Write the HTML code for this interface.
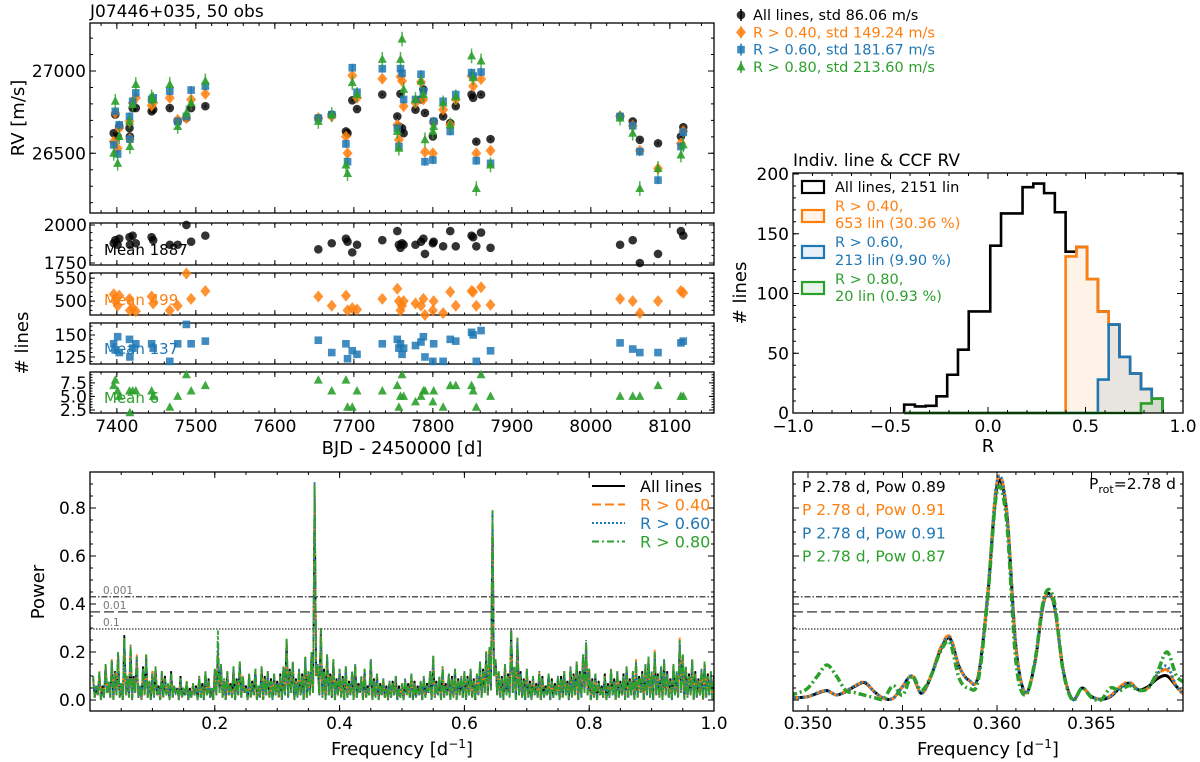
<!DOCTYPE html>
<html><head><meta charset="utf-8">
<style>
html,body{margin:0;padding:0;background:#fff;}
svg{display:block;font-family:"DejaVu Sans","Liberation Sans",sans-serif;}
</style></head>
<body>
<svg id="fig" width="1200" height="762" viewBox="0 0 1200 762" xmlns="http://www.w3.org/2000/svg"></svg>
<script>
// ---------- DATA ----------
const obsDates = [7396,7398,7401,7403,7416,7416.5,7420,7424,7444,7446,7467,7477,7488,7494,7512,
 7655,7672,7690,7692,7698,7704,7736,7755,7757,7759,7761,7763,7778,7785,7788,7790,7800,7801,7813,7822,7829,7849,7851,7855,7861,7873,
 8037,8053,8062,8085,8114,8117];
const rvAll = [26622,26735,26602,26663,26653,26602,26775,26775,26755,26765,26775,26694,26714,26775,26786,
 26714,26735,26633,26622,26822,26769,26857,26724,26663,26861,26653,26622,26765,26827,26888,26745,26602,26694,26724,26684,26786,26857,26837,26571,26857,26586,
 26724,26694,26582,26561,26602,26659];
const rvR40 = [26571,26745,26531,26653,26694,26586,26806,26837,26790,26806,26837,26704,26714,26827,26861,
 26714,26724,26602,26500,26973,26837,26953,26673,26582,26965,26939,26786,26806,26933,26827,26508,26500,26684,26765,26673,26827,26969,26908,26500,26951,26516,
 26724,26667,26516,26408,26561,26633];
const rvR60 = [26551,26755,26496,26673,26724,26586,26816,26867,26827,26837,26878,26694,26724,26884,26908,
 26714,26735,26557,26449,27020,26871,27014,26653,26541,27014,26986,26827,26827,26980,26878,26449,26459,26694,26816,26633,26857,26990,26969,26455,26994,26439,
 26724,26667,26510,26337,26541,26627];
const rvR80 = [26500,26816,26439,26602,26694,26541,26796,26918,26843,26827,26918,26663,26745,26806,26939,
 26694,26735,26429,26377,26929,26857,27071,26633,26531,27071,27194,26888,26827,26939,26857,26582,26633,26663,26806,26673,26843,27092,26959,26286,27061,26429,
 26714,26622,26286,26408,26490,26551];
const nAll = [1880,1900,1870,1910,1920,1870,1930,1880,1920,1900,1870,1870,2000,1890,1930,
 1840,1880,1910,1890,1820,1870,1900,1960,1870,1850,1880,1870,1870,1890,1910,1810,1880,1890,1860,1960,1860,1930,1920,1860,1950,1850,
 1870,1900,1750,1810,1960,1930];
const nR40 = [515,500,490,512,505,480,485,478,510,495,480,490,560,505,522,
 510,490,512,480,485,482,505,527,500,480,490,500,495,490,505,470,480,500,474,520,490,522,520,490,530,492,
 505,500,474,500,522,518];
const nR60 = [140,133,148,130,145,125,135,140,140,135,120,140,162,140,143,
 144,130,140,123,132,128,140,145,135,140,128,135,138,142,148,125,120,140,120,145,143,153,150,120,155,132,
 141,134,130,130,141,143];
const nR80 = [7,8,6,5,6,2,6,6,6,5,3,5,9,6,7,
 8,6,8,3,3,6,6,7,3,5,9,5,4,5,6,6,4,6,3,7,7,7,6,3,9,5,
 5,5,5,7,5,5];
const meanLabels = ["Mean 1887","Mean 499","Mean 137","Mean 6"];
const legendRV = ["All lines, std 86.06 m/s","R > 0.40, std 149.24 m/s","R > 0.60, std 181.67 m/s","R > 0.80, std 213.60 m/s"];

// histogram
const histStart = -0.43;
const histWidth = 0.0552;
const histAll = [7,5.5,6,14,32,53,85,85,140,167,167,189,192,184,168,135,139,112,85,74,47,33,20,12];
const histR40 = [0,0,0,0,0,0,0,0,0,0,0,0,0,0,0,131,139,112,85,74,47,33,20,12];
const histR60 = [0,0,0,0,0,0,0,0,0,0,0,0,0,0,0,0,0,0,28,74,47,33,20,12];
const histR80 = [0,0,0,0,0,0,0,0,0,0,0,0,0,0,0,0,0,0,0,0,0,0,8,12];
const histLegend = [["All lines, 2151 lin"],["R > 0.40,","653 lin (30.36 %)"],["R > 0.60,","213 lin (9.90 %)"],["R > 0.80,","20 lin (0.93 %)"]];

// periodogram full (frequency step 0.005 from 0.005 to 1.000)
const pgStep = 0.005;
const pgR80 = [.10,.06,.12,.05,.15,.08,.17,.11,.20,.07, .26,.10,.23,.09,.18,.06,.13,.19,.08,.11,
 .14,.05,.12,.09,.07,.11,.06,.04,.09,.05, .08,.04,.07,.05,.10,.06,.12,.08,.05,.13,
 .29,.15,.09,.12,.06,.14,.08,.16,.10,.05, .11,.07,.13,.06,.14,.09,.12,.08,.11,.07,
 .10,.14,.26,.12,.16,.08,.13,.10,.18,.12, .20,.90,.15,.30,.12,.19,.10,.17,.08,.13,
 .09,.14,.07,.12,.15,.06,.10,.13,.05,.17, .08,.11,.06,.09,.05,.08,.07,.10,.05,.07,
 .09,.06,.11,.07,.05,.08,.10,.06,.12,.19, .07,.10,.14,.06,.11,.09,.13,.08,.10,.12,
 .09,.13,.08,.11,.16,.12,.20,.22,.79,.17, .12,.09,.15,.10,.30,.14,.26,.11,.08,.13,
 .07,.10,.06,.12,.09,.05,.11,.08,.06,.10, .09,.12,.07,.14,.10,.16,.11,.19,.25,.13,
 .08,.11,.07,.05,.10,.06,.13,.08,.12,.07, .10,.14,.08,.12,.16,.09,.11,.15,.18,.12,
 .20,.10,.14,.17,.11,.08,.15,.12,.25,.19, .14,.10,.17,.11,.08,.13,.16,.10,.12,.09];
const pgAll = [.09,.05,.11,.06,.14,.07,.16,.12,.19,.06, .27,.09,.22,.10,.17,.05,.14,.18,.07,.12,
 .13,.06,.11,.10,.06,.12,.05,.05,.10,.04, .07,.05,.06,.06,.09,.07,.11,.09,.04,.12,
 .20,.14,.08,.11,.07,.13,.09,.15,.09,.06, .10,.08,.12,.05,.13,.10,.11,.09,.10,.08,
 .11,.13,.25,.13,.15,.09,.12,.11,.17,.11, .19,.89,.14,.29,.13,.18,.11,.16,.09,.12,
 .10,.13,.08,.11,.14,.07,.09,.12,.06,.16, .09,.10,.07,.08,.06,.07,.08,.09,.06,.06,
 .08,.07,.10,.08,.06,.07,.09,.07,.11,.17, .08,.09,.13,.07,.10,.10,.12,.09,.09,.11,
 .10,.12,.09,.10,.15,.13,.19,.21,.78,.16, .11,.10,.14,.11,.29,.13,.25,.12,.09,.12,
 .08,.09,.07,.11,.10,.06,.10,.09,.07,.09, .10,.11,.08,.13,.11,.15,.12,.18,.23,.12,
 .09,.10,.08,.06,.11,.07,.12,.09,.11,.08, .11,.13,.09,.11,.15,.10,.12,.14,.17,.11,
 .19,.11,.13,.16,.12,.09,.14,.11,.23,.18, .13,.11,.16,.12,.09,.12,.15,.11,.11,.10];
const pgR40 = [.09,.06,.12,.05,.15,.07,.17,.12,.20,.07, .26,.10,.23,.09,.19,.06,.13,.19,.08,.12,
 .14,.05,.12,.09,.07,.11,.06,.04,.09,.05, .08,.04,.07,.05,.10,.06,.12,.08,.05,.13,
 .21,.15,.09,.12,.06,.14,.08,.16,.10,.05, .11,.07,.13,.06,.14,.09,.12,.08,.11,.07,
 .10,.14,.26,.12,.16,.08,.13,.10,.18,.12, .20,.91,.15,.30,.12,.19,.10,.17,.08,.13,
 .09,.14,.07,.12,.15,.06,.10,.13,.05,.17, .08,.11,.06,.09,.05,.08,.07,.10,.05,.07,
 .09,.06,.11,.07,.05,.08,.10,.06,.12,.18, .07,.10,.14,.06,.11,.09,.13,.08,.10,.12,
 .09,.13,.08,.11,.16,.12,.21,.22,.79,.17, .12,.09,.15,.10,.30,.14,.26,.11,.08,.13,
 .07,.10,.06,.12,.09,.05,.11,.08,.06,.10, .09,.12,.07,.14,.10,.16,.11,.19,.24,.13,
 .08,.11,.07,.05,.10,.06,.13,.08,.12,.07, .10,.14,.08,.12,.17,.09,.11,.15,.18,.12,
 .21,.10,.14,.17,.11,.08,.15,.12,.26,.19, .14,.10,.17,.11,.08,.13,.16,.10,.12,.09];
const pgR60 = [.10,.06,.11,.05,.14,.08,.16,.11,.19,.07, .25,.10,.22,.09,.18,.06,.13,.18,.08,.11,
 .13,.05,.12,.09,.07,.11,.06,.04,.09,.05, .08,.04,.07,.05,.10,.06,.12,.08,.05,.13,
 .22,.15,.09,.12,.06,.14,.08,.16,.10,.05, .11,.07,.13,.06,.14,.09,.12,.08,.11,.07,
 .10,.14,.25,.12,.16,.08,.13,.10,.18,.12, .20,.91,.15,.29,.12,.19,.10,.17,.08,.13,
 .09,.14,.07,.12,.15,.06,.10,.13,.05,.17, .08,.11,.06,.09,.05,.08,.07,.10,.05,.07,
 .09,.06,.11,.07,.05,.08,.10,.06,.12,.18, .07,.10,.14,.06,.11,.09,.13,.08,.10,.12,
 .09,.13,.08,.11,.16,.12,.20,.22,.79,.17, .12,.09,.15,.10,.29,.14,.26,.11,.08,.13,
 .07,.10,.06,.12,.09,.05,.11,.08,.06,.10, .09,.12,.07,.14,.10,.16,.11,.19,.24,.13,
 .08,.11,.07,.05,.10,.06,.13,.08,.12,.07, .10,.14,.08,.12,.16,.09,.11,.15,.18,.12,
 .20,.10,.14,.17,.11,.08,.15,.12,.25,.19, .14,.10,.17,.11,.08,.13,.16,.10,.12,.09];
// noise floor (troughs between successive samples)
const pgFloor = [.01,.02,.00,.01,.03,.01,.00,.02,.01,.00, .02,.01,.00,.03,.01,.00,.02,.01,.00,.01,
 .02,.00,.01,.02,.00,.01,.03,.00,.01,.02, .00,.01,.02,.00,.01,.00,.02,.01,.00,.02,
 .03,.01,.00,.02,.01,.00,.02,.01,.03,.00, .01,.02,.00,.01,.00,.02,.01,.00,.02,.01,
 .00,.02,.01,.03,.00,.01,.02,.00,.01,.02, .03,.10,.02,.01,.00,.02,.01,.00,.02,.01,
 .00,.01,.02,.00,.01,.03,.00,.01,.02,.00, .01,.00,.02,.01,.00,.01,.02,.00,.01,.00,
 .02,.01,.00,.01,.02,.00,.01,.03,.00,.01, .02,.00,.01,.02,.00,.01,.00,.02,.01,.00,
 .02,.01,.00,.02,.01,.03,.02,.04,.10,.02, .01,.00,.02,.01,.03,.00,.02,.01,.00,.01,
 .00,.02,.01,.00,.01,.02,.00,.01,.02,.00, .01,.02,.00,.01,.02,.00,.01,.03,.02,.00,
 .01,.00,.02,.01,.00,.01,.02,.00,.01,.02, .00,.01,.02,.00,.01,.03,.00,.02,.01,.00,
 .02,.01,.00,.02,.01,.00,.02,.01,.03,.00, .01,.02,.00,.01,.02,.00,.01,.02,.00,.01];
const pgLegend = ["All lines","R > 0.40","R > 0.60","R > 0.80"];
const fapLevels = [0.43,0.367,0.296];
const fapLabels = ["0.001","0.01","0.1"];

// zoomed periodogram
const zFreq = [0.3490,0.3495,0.3500,0.3505,0.3510,0.3515,0.3520,0.3525,0.3530,0.3535,0.3540,0.3545,0.3550,0.3555,0.3560,0.3565,0.3570,0.3575,0.3580,0.3585,0.3590,0.3595,0.3600,0.3605,0.3610,0.3615,0.3620,0.3625,0.3630,0.3635,0.3640,0.3645,0.3650,0.3655,0.3660,0.3665,0.3670,0.3675,0.3680,0.3685,0.3690,0.3695,0.3700];
const zAll = [0.01,0.01,0.014,0.028,0.039,0.021,0.035,0.058,0.072,0.035,0.007,0.007,0.056,0.10,0.028,0.097,0.208,0.257,0.139,0.083,0.097,0.43,0.89,0.79,0.222,0.031,0.153,0.417,0.403,0.125,0.003,0.05,0.014,0.003,0.014,0.05,0.07,0.042,0.056,0.090,0.100,0.056,0.014];
const zR40 = [0.01,0.01,0.014,0.030,0.040,0.021,0.037,0.060,0.074,0.035,0.007,0.007,0.056,0.10,0.028,0.100,0.215,0.265,0.139,0.083,0.097,0.44,0.91,0.80,0.222,0.031,0.153,0.42,0.40,0.125,0.003,0.05,0.014,0.003,0.018,0.055,0.075,0.042,0.050,0.105,0.125,0.056,0.014];
const zR60 = [0.01,0.01,0.014,0.030,0.040,0.021,0.037,0.060,0.074,0.035,0.007,0.007,0.056,0.10,0.028,0.097,0.21,0.26,0.139,0.083,0.097,0.44,0.91,0.80,0.222,0.031,0.153,0.42,0.40,0.125,0.003,0.05,0.014,0.003,0.016,0.05,0.07,0.042,0.050,0.110,0.140,0.056,0.014];
const zR80 = [0.02,0.03,0.05,0.10,0.146,0.10,0.04,0.03,0.02,0.01,0.005,0.06,0.02,0.10,0.04,0.10,0.20,0.24,0.09,0.05,0.08,0.42,0.87,0.75,0.16,0.02,0.16,0.43,0.42,0.12,0.0,0.05,0.01,0.0,0.05,0.04,0.06,0.04,0.05,0.12,0.20,0.10,0.07];
const zLabels = ["P 2.78 d, Pow 0.89","P 2.78 d, Pow 0.91","P 2.78 d, Pow 0.91","P 2.78 d, Pow 0.87"];

// ---------- DRAWING ----------
const svg = document.getElementById('fig');
const NS = 'http://www.w3.org/2000/svg';
const COLORS = ['#000000','#ff7f0e','#1f77b4','#2ca02c'];
function mk(tag, attrs, name, parent){
  const el = document.createElementNS(NS, tag);
  for (const k in attrs) el.setAttribute(k, attrs[k]);
  
  
  (parent || svg).appendChild(el);
  return el;
}
function txt(x, y, s, name, opts){
  opts = opts || {};
  const t = mk('text', {x:x, y:y, 'font-size':opts.size||16, fill:opts.fill||'#000', 'text-anchor':opts.anchor||'start'}, name);
  if (opts.rot) t.setAttribute('transform', 'rotate(-90 '+x+' '+y+')');
  t.textContent = s;
  return t;
}
function frame(name, x0, x1, y0, y1){
  mk('rect', {x:x0, y:y0, width:x1-x0, height:y1-y0, fill:'none', stroke:'#000', 'stroke-width':1.3}, name);
}
function xTicks(name, sx, lo, hi, step, x0, x1, y0, y1, len){
  const n = Math.round((hi-lo)/step);
  let d = '';
  for (let i=0;i<=n;i++){
    const v = lo + i*step; const x = sx(v);
    if (x < x0-0.5 || x > x1+0.5) continue;
    d += 'M'+x+' '+y1+'v'+(-len)+'M'+x+' '+y0+'v'+len;
  }
  mk('path', {d:d, stroke:'#000', 'stroke-width':1, fill:'none'}, name);
}
function yTicks(name, sy, lo, hi, step, x0, x1, y0, y1, len){
  const n = Math.round((hi-lo)/step);
  let d = '';
  for (let i=0;i<=n;i++){
    const v = lo + i*step; const y = sy(v);
    if (y < y0-0.5 || y > y1+0.5) continue;
    d += 'M'+x0+' '+y+'h'+len+'M'+x1+' '+y+'h'+(-len);
  }
  mk('path', {d:d, stroke:'#000', 'stroke-width':1, fill:'none'}, name);
}
function marker(kind, x, y, color, name, parent){
  if (kind===0) return mk('circle', {cx:x, cy:y, r:4.3, fill:color, 'fill-opacity':0.8}, name, parent);
  if (kind===1) return mk('path', {d:'M'+x+' '+(y-6)+'L'+(x+5)+' '+y+'L'+x+' '+(y+6)+'L'+(x-5)+' '+y+'Z', fill:color, 'fill-opacity':0.85}, name, parent);
  if (kind===2) return mk('rect', {x:x-3.8, y:y-3.8, width:7.6, height:7.6, fill:color, 'fill-opacity':0.85}, name, parent);
  return mk('path', {d:'M'+x+' '+(y-5)+'L'+(x+4.5)+' '+(y+3.5)+'L'+(x-4.5)+' '+(y+3.5)+'Z', fill:color, 'fill-opacity':0.9}, name, parent);
}

// ===== RV panel =====
const XB = d => 90 + (d-7366)*0.79;
const YRV = v => 71 + (27000-v)*0.1646;
frame('rv-panel-frame', 90, 714, 23, 213);
xTicks('rv-x-major-ticks', XB, 7400, 8100, 100, 90, 714, 23, 213, 6);
xTicks('rv-x-minor-ticks', XB, 7380, 8140, 20, 90, 714, 23, 213, 3);
yTicks('rv-y-major-ticks', YRV, 26500, 27000, 500, 90, 714, 23, 213, 6);
yTicks('rv-y-minor-ticks', YRV, 26200, 27300, 100, 90, 714, 23, 213, 3);
txt(86, YRV(27000)+6, '27000', 'rv-ytick-27000', {anchor:'end', size:17});
txt(86, YRV(26500)+6, '26500', 'rv-ytick-26500', {anchor:'end', size:17});
txt(24, 118, 'RV [m/s]', 'rv-y-axis-title', {rot:true, anchor:'middle', size:18});
txt(90, 17, 'J07446+035, 50 obs', 'rv-title', {size:17});
const rvSeries = [rvAll, rvR40, rvR60, rvR80];
const rvErr = [8, 18, 25, 45];
const seriesNames = ['all-lines','r-040','r-060','r-080'];
rvSeries.forEach((arr, s) => {
  const g = mk('g', {}, 'rv-series-'+seriesNames[s]);
  arr.forEach((v, i) => {
    const x = XB(obsDates[i]); const y = YRV(v);
    mk('line', {x1:x, x2:x, y1:YRV(v+rvErr[s]), y2:YRV(v-rvErr[s]), stroke:COLORS[s], 'stroke-width':1.5, 'stroke-opacity':0.8}, 'rv-errorbar', g);
    marker(s, x, y, COLORS[s], 'rv-point', g);
  });
});
// RV legend
legendRV.forEach((s, i) => {
  const y = 15 + i*17.3;
  mk('line', {x1:741, x2:741, y1:y-6, y2:y+6, stroke:COLORS[i], 'stroke-width':1.5}, 'rv-legend-errorbar');
  marker(i, 741, y, COLORS[i], 'rv-legend-marker');
  txt(753, y+5, s, 'rv-legend-entry', {fill:COLORS[i], size:14.5});
});

// ===== line count panels =====
const panels = [
  {y0:223, y1:265, top:2013, bot:1737, data:nAll, maj:250, majLo:1750, min:50, ticks:['1750','2000'], tv:[1750,2000]},
  {y0:273, y1:315, top:561, bot:470, data:nR40, maj:50, majLo:500, min:10, ticks:['500','550'], tv:[500,550]},
  {y0:323, y1:364, top:163.6, bot:117, data:nR60, maj:25, majLo:125, min:5, ticks:['125','150'], tv:[125,150]},
  {y0:372, y1:413, top:9.5, bot:1.95, data:nR80, maj:2.5, majLo:2.5, min:0.5, ticks:['2.5','5.0','7.5'], tv:[2.5,5.0,7.5]}
];
panels.forEach((p, s) => {
  const sy = v => p.y1 - (v-p.bot)/(p.top-p.bot)*(p.y1-p.y0);
  frame('nlines-panel-frame-'+seriesNames[s], 90, 714, p.y0, p.y1);
  xTicks('nlines-x-major-ticks', XB, 7400, 8100, 100, 90, 714, p.y0, p.y1, 5);
  xTicks('nlines-x-minor-ticks', XB, 7380, 8140, 20, 90, 714, p.y0, p.y1, 2.5);
  yTicks('nlines-y-major-ticks', sy, p.majLo-p.maj*2, p.majLo+p.maj*4, p.maj, 90, 714, p.y0, p.y1, 5);
  yTicks('nlines-y-minor-ticks', sy, p.majLo-p.maj*2, p.majLo+p.maj*4, p.min, 90, 714, p.y0, p.y1, 2.5);
  p.tv.forEach((v, k) => txt(87, sy(v)+6, p.ticks[k], 'nlines-ytick', {anchor:'end', size:17}));
  const g = mk('g', {}, 'nlines-series-'+seriesNames[s]);
  p.data.forEach((v, i) => {
    const y = Math.max(p.y0, Math.min(p.y1, sy(v)));
    marker(s, XB(obsDates[i]), y, COLORS[s], 'nlines-point', g);
  });
  txt(104, p.y1-10, meanLabels[s], 'nlines-mean-label', {fill:COLORS[s], size:15});
});
txt(28, 343, '# lines', 'nlines-y-axis-title', {rot:true, anchor:'middle', size:18});
[7400,7500,7600,7700,7800,7900,8000,8100].forEach(v => txt(XB(v), 432, String(v), 'bjd-xtick', {anchor:'middle', size:17}));
txt(402, 454, 'BJD - 2450000 [d]', 'bjd-x-axis-title', {anchor:'middle', size:18});

// ===== Histogram =====
const XR = r => 793 + (r+1)*195;
const YH = n => 413 - n*1.195;
txt(793, 166, 'Indiv. line & CCF RV', 'hist-title', {size:17});
const hFills = ['none','rgba(255,127,14,0.1)','rgba(31,119,180,0.1)','rgba(44,160,44,0.1)'];
[histAll, histR40, histR60, histR80].forEach((arr, s) => {
  let d = 'M'+XR(histStart)+' '+YH(0);
  arr.forEach((c, i) => {
    const a = histStart + i*histWidth, b = a + histWidth;
    d += 'L'+XR(a)+' '+YH(c)+'L'+XR(b)+' '+YH(c);
  });
  d += 'L'+XR(histStart+arr.length*histWidth)+' '+YH(0);
  mk('path', {d:d+'Z', fill:hFills[s], stroke:'none'}, 'hist-fill-'+seriesNames[s]);
  mk('path', {d:d, fill:'none', stroke:COLORS[s], 'stroke-width':2.6, 'stroke-linejoin':'miter'}, 'hist-step-'+seriesNames[s]);
});
frame('hist-frame', 793, 1183, 173, 413);
xTicks('hist-x-major-ticks', XR, -1, 1, 0.5, 793, 1183, 173, 413, 6);
xTicks('hist-x-minor-ticks', XR, -1, 1, 0.1, 793, 1183, 173, 413, 3);
yTicks('hist-y-major-ticks', YH, 0, 200, 50, 793, 1183, 173, 413, 6);
yTicks('hist-y-minor-ticks', YH, 0, 200, 10, 793, 1183, 173, 413, 3);
[0,50,100,150,200].forEach(v => txt(789, YH(v)+6, String(v), 'hist-ytick', {anchor:'end', size:17}));
[-1,-0.5,0,0.5,1].forEach(v => txt(XR(v), 432, (v<0?'\u2212':'')+Math.abs(v).toFixed(1), 'hist-xtick', {anchor:'middle', size:17}));
txt(988, 452, 'R', 'hist-x-axis-title', {anchor:'middle', size:18});
txt(746, 293, '# lines', 'hist-y-axis-title', {rot:true, anchor:'middle', size:18});
const legBoxY = [187, 216, 252, 288];
const legTextY = [[192],[211,228],[247,265],[284,301]];
histLegend.forEach((lines, i) => {
  mk('rect', {x:802, y:legBoxY[i]-6, width:22, height:12, fill:i?hFills[i]:'#fff', stroke:COLORS[i], 'stroke-width':2.2}, 'hist-legend-swatch');
  lines.forEach((s, k) => txt(835, legTextY[i][k], s, 'hist-legend-entry', {fill:COLORS[i], size:14.5}));
});

// ===== Periodogram full =====
const XF = f => 90 + f*624;
const YP = p => 700 - p*240;
const dashes = ['', '9,4', '2,2', '7,3,2,3'];
function fapLines(x0, x1, labels){
  const st = ['6,2,1.5,2','10,4','1.5,1.5'];
  fapLevels.forEach((lv, i) => {
    mk('line', {x1:x0, x2:x1, y1:YP(lv), y2:YP(lv), stroke:'#555', 'stroke-width':1.5, 'stroke-dasharray':st[i]}, 'fap-line-'+fapLabels[i]);
    if (labels) txt(103, YP(lv)-3, fapLabels[i], 'fap-label', {fill:'#777', size:10.5});
  });
}
mk('clipPath', {id:'clipL'}, 'clip-left');
mk('rect', {x:90, y:472, width:624, height:239}, 'clip-rect', document.querySelector('#clipL'));
[pgAll, pgR40, pgR60, pgR80].forEach((arr, s) => {
  let d = '';
  arr.forEach((p, i) => {
    const f = (i+1)*pgStep;
    d += (i?'L':'M') + XF(f).toFixed(1) + ' ' + YP(p).toFixed(1);
    d += 'L' + XF(f+pgStep/2).toFixed(1) + ' ' + YP(pgFloor[i]).toFixed(1);
  });
  mk('path', {d:d, fill:'none', stroke:COLORS[s], 'stroke-width':1.8, 'stroke-dasharray':dashes[s], 'clip-path':'url(#clipL)'}, 'periodogram-line-'+seriesNames[s]);
});
fapLines(90, 714, true);
frame('periodogram-frame', 90, 714, 472, 711);
xTicks('pg-x-major-ticks', XF, 0, 1, 0.2, 90, 714, 472, 711, 6);
xTicks('pg-x-minor-ticks', XF, 0, 1, 0.05, 90, 714, 472, 711, 3);
yTicks('pg-y-major-ticks', YP, 0, 0.8, 0.2, 90, 714, 472, 711, 6);
yTicks('pg-y-minor-ticks', YP, 0, 0.95, 0.05, 90, 714, 472, 711, 3);
[0,0.2,0.4,0.6,0.8].forEach(v => txt(86, YP(v)+6, v.toFixed(1), 'pg-ytick', {anchor:'end', size:17}));
[0.2,0.4,0.6,0.8,1.0].forEach(v => txt(XF(v), 729, v.toFixed(1), 'pg-xtick', {anchor:'middle', size:17}));
const ft = txt(402, 755, 'Frequency [d', 'pg-x-axis-title', {anchor:'middle', size:18});
ft.innerHTML = 'Frequency [d<tspan dy="-7" font-size="12">\u22121</tspan><tspan dy="7">]</tspan>';
txt(44, 592, 'Power', 'pg-y-axis-title', {rot:true, anchor:'middle', size:18});
pgLegend.forEach((s, i) => {
  const y = 486 + i*18.5;
  mk('line', {x1:592, x2:625, y1:y, y2:y, stroke:COLORS[i], 'stroke-width':2, 'stroke-dasharray':dashes[i]}, 'pg-legend-line');
  txt(640, y+6, s, 'pg-legend-entry', {fill:COLORS[i], size:16});
});

// ===== Periodogram zoom =====
const XZ = f => 808 + (f-0.35)*18900;
mk('clipPath', {id:'clipR'}, 'clip-right');
mk('rect', {x:793, y:472, width:390, height:239}, 'clip-rect', document.querySelector('#clipR'));
function smoothPath(xs, ys){
  const pts = xs.map((x,i)=>[x, ys[i]]);
  let d = 'M'+pts[0][0].toFixed(1)+' '+pts[0][1].toFixed(1);
  for (let i=0;i<pts.length-1;i++){
    const p0 = pts[Math.max(0,i-1)], p1 = pts[i], p2 = pts[i+1], p3 = pts[Math.min(pts.length-1,i+2)];
    const c1 = [p1[0]+(p2[0]-p0[0])/6, p1[1]+(p2[1]-p0[1])/6];
    const c2 = [p2[0]-(p3[0]-p1[0])/6, p2[1]-(p3[1]-p1[1])/6];
    d += 'C'+c1[0].toFixed(1)+' '+c1[1].toFixed(1)+' '+c2[0].toFixed(1)+' '+c2[1].toFixed(1)+' '+p2[0].toFixed(1)+' '+p2[1].toFixed(1);
  }
  return d;
}
const zDash = ['', '10,4', '2,2.5', '8,3,2,3'];
[zAll, zR40, zR60, zR80].forEach((arr, s) => {
  mk('path', {d:smoothPath(zFreq.map(XZ), arr.map(YP)), fill:'none', stroke:COLORS[s], 'stroke-width':s===3?3.5:3, 'stroke-dasharray':zDash[s], 'clip-path':'url(#clipR)'}, 'zoom-periodogram-line-'+seriesNames[s]);
});
fapLines(793, 1183, false);
frame('zoom-periodogram-frame', 793, 1183, 472, 711);
xTicks('zpg-x-major-ticks', XZ, 0.35, 0.37, 0.005, 793, 1183, 472, 711, 6);
xTicks('zpg-x-minor-ticks', XZ, 0.349, 0.370, 0.001, 793, 1183, 472, 711, 3);
yTicks('zpg-y-major-ticks', YP, 0, 0.8, 0.2, 793, 1183, 472, 711, 6);
yTicks('zpg-y-minor-ticks', YP, 0, 0.95, 0.05, 793, 1183, 472, 711, 3);
[0.350,0.355,0.360,0.365].forEach(v => txt(XZ(v), 729, v.toFixed(3), 'zpg-xtick', {anchor:'middle', size:17}));
const ft2 = txt(988, 755, 'Frequency', 'zpg-x-axis-title', {anchor:'middle', size:18});
ft2.innerHTML = 'Frequency [d<tspan dy="-7" font-size="12">\u22121</tspan><tspan dy="7">]</tspan>';
zLabels.forEach((s, i) => txt(802, 492 + i*23.2, s, 'zpg-peak-label', {fill:COLORS[i], size:15.5}));
const pr = txt(1176, 489, 'P', 'prot-label', {anchor:'end', size:15.5});
pr.innerHTML = 'P<tspan dy="4" font-size="11">rot</tspan><tspan dy="-4">=2.78 d</tspan>';
</script>
</body></html>
